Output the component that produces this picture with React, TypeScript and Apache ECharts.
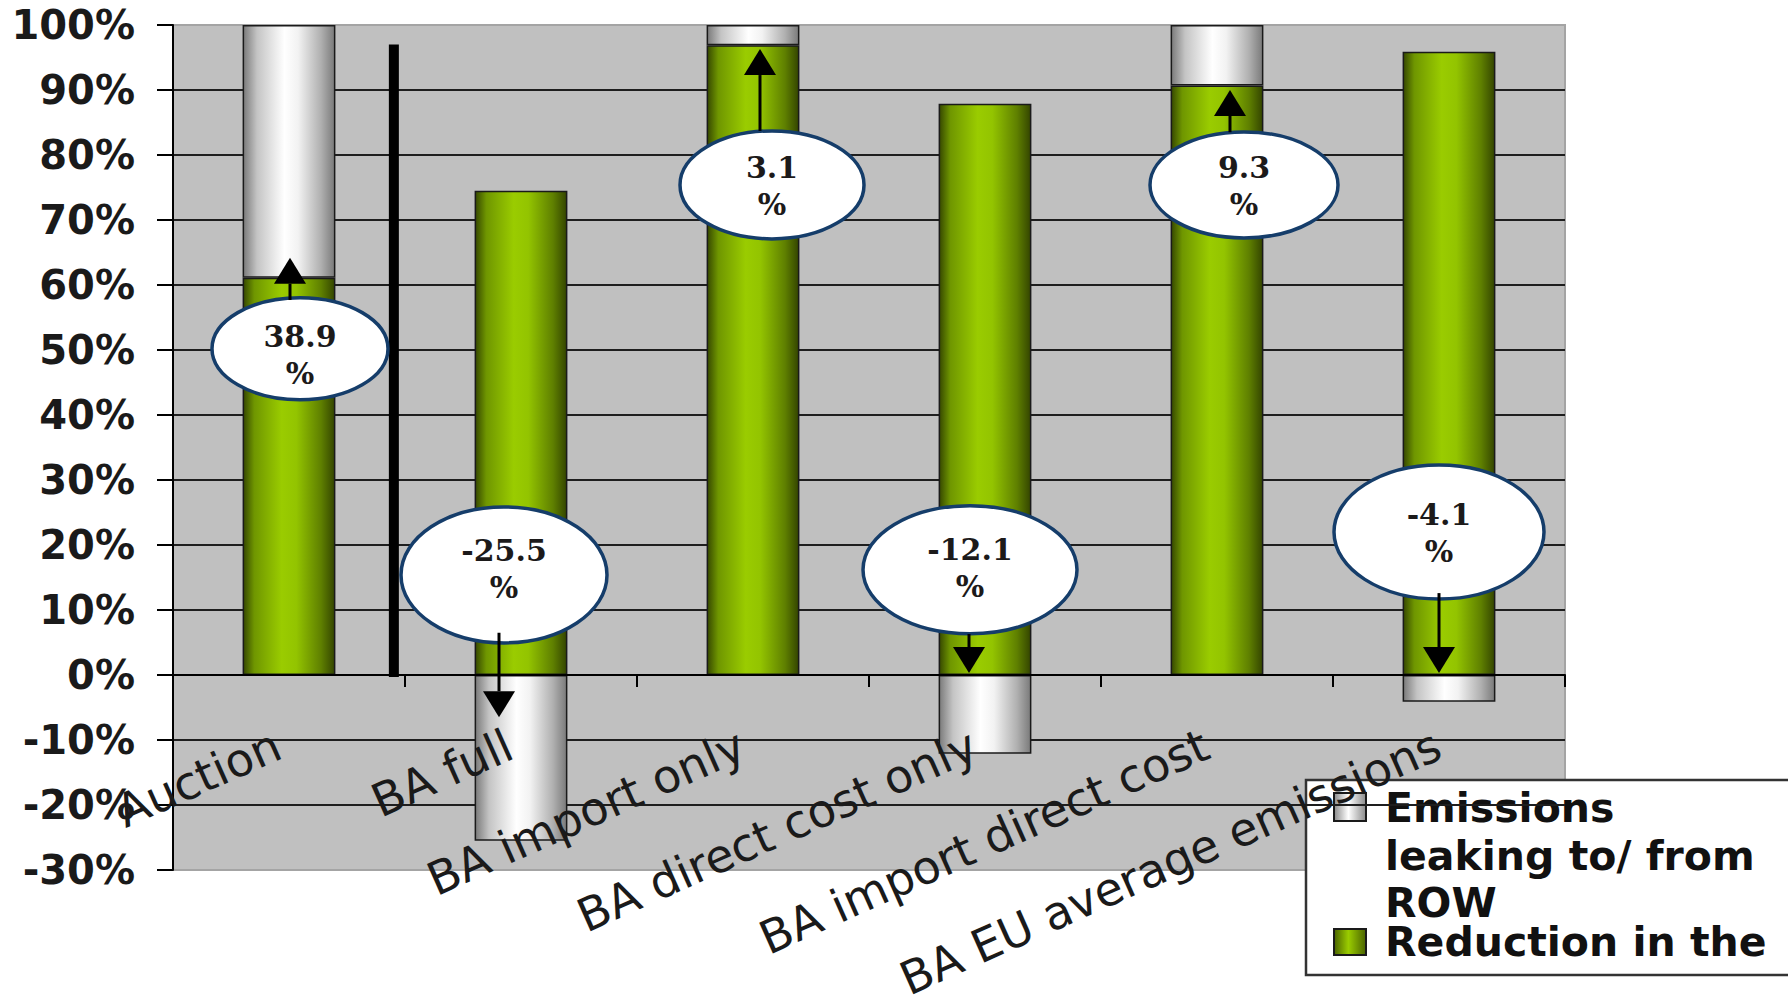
import React, { useEffect, useRef } from "react";
import * as echarts from "echarts";

// ---------- data ----------
const categories = [
  "Auction",
  "BA full",
  "BA import only",
  "BA direct cost only",
  "BA import direct cost",
  "BA EU average emissions",
];
const reduction = [61.1, 74.5, 96.9, 87.9, 90.7, 95.9];
const leakage = [38.9, -25.5, 3.1, -12.1, 9.3, -4.1];
const seriesNames = ["Emissions leaking to/ from ROW", "Reduction in the"];
const legendLines1 = ["Emissions", "leaking to/ from", "ROW"];
const legendLines2 = ["Reduction in the"];
const yMin = -30;
const yMax = 100;
const yStep = 10;

// ---------- annotation layout (value units for vertical positions, px for offsets/sizes) ----------
const calloutCenter = [50.2, 15.4, 75.4, 16.2, 75.4, 22];
const calloutDx = [11, -17, 19, -15, 27, -10];
const calloutRx = [88, 103, 92, 107, 94, 105];
const calloutRy = [51, 68, 54, 64, 53, 67];
const calloutTextDy = [6, -6, 1, -2, 1, 1];
const arrowDx = [1, -22, 7, -16, 13, -10];
const arrowFrom = [57.7, 6.5, 83.7, 6.3, 83.5, 12.6];
const arrowTip = [64.2, -6.5, 96.3, 0.3, 90, 0.3];
const dividerTop = 97;

const greenGrad = () =>
  new echarts.graphic.LinearGradient(0, 0, 1, 0, [
    { offset: 0, color: "#364800" },
    { offset: 0.12, color: "#6f9600" },
    { offset: 0.42, color: "#9acc00" },
    { offset: 0.58, color: "#93c400" },
    { offset: 0.85, color: "#5f8000" },
    { offset: 1, color: "#344500" },
  ]);
const whiteGrad = () =>
  new echarts.graphic.LinearGradient(0, 0, 1, 0, [
    { offset: 0, color: "#7a7a7a" },
    { offset: 0.15, color: "#c4c4c4" },
    { offset: 0.45, color: "#ffffff" },
    { offset: 0.6, color: "#f2f2f2" },
    { offset: 0.85, color: "#b0b0b0" },
    { offset: 1, color: "#7a7a7a" },
  ]);

export default function App() {
  const ref = useRef<HTMLDivElement>(null);

  useEffect(() => {
    if (!ref.current) return;
    const chart = echarts.init(ref.current, null, { renderer: "svg" });

    const legendText = (t: string, y: number) => ({
      type: "text",
      x: 1385,
      y,
      style: {
        text: t,
        fontFamily: "DejaVu Sans",
        fontWeight: "bold",
        fontSize: 41,
        fill: "#111",
        verticalAlign: "middle",
      },
    });

    const option: any = {
      animation: false,
      textStyle: { fontFamily: "DejaVu Sans" },
      grid: {
        left: 173,
        right: 223,
        top: 25,
        bottom: 130,
        show: true,
        backgroundColor: "#c0c0c0",
        borderColor: "#a4a4a4",
        borderWidth: 2,
        containLabel: false,
        outerBoundsMode: "none",
      },
      xAxis: {
        type: "category",
        data: categories,
        z: 4,
        axisLine: { onZero: true, lineStyle: { color: "#000", width: 2 } },
        axisTick: { show: true, length: 12, lineStyle: { color: "#000", width: 2 } },
        axisLabel: {
          interval: 0,
          rotate: 24,
          margin: -132,
          padding: [0, 12, 0, 0],
          fontFamily: "DejaVu Sans",
          fontSize: 46,
          color: "#1a1a1a",
        },
        splitLine: { show: false },
      },
      yAxis: {
        type: "value",
        min: yMin,
        max: yMax,
        interval: yStep,
        axisLine: { show: true, lineStyle: { color: "#000", width: 2 } },
        axisTick: { show: true, length: 16, lineStyle: { color: "#000", width: 2 } },
        axisLabel: {
          formatter: "{value}%",
          fontFamily: "DejaVu Sans",
          fontWeight: "bold",
          fontSize: 40,
          color: "#1a1a1a",
          margin: 38,
        },
        splitLine: {
          show: true,
          showMinLine: false,
          showMaxLine: false,
          lineStyle: { color: "#1e1e1e", width: 2 },
        },
      },
      series: [
        {
          name: seriesNames[1],
          type: "bar",
          stack: "total",
          data: reduction,
          barWidth: "40%",
          itemStyle: { color: greenGrad(), borderColor: "#1a1a1a", borderWidth: 1.5 },
        },
        {
          name: seriesNames[0],
          type: "bar",
          stack: "total",
          data: leakage,
          barWidth: "40%",
          itemStyle: { color: whiteGrad(), borderColor: "#1a1a1a", borderWidth: 1.5 },
        },
        {
          name: "divider",
          type: "custom",
          silent: true,
          z: 3,
          data: [[0, dividerTop]],
          renderItem: (params: any, api: any) => {
            const base = api.coord([0, 0]);
            const band = api.size([1, 0])[0];
            const top = api.coord([0, api.value(1)])[1];
            const x = base[0] + band * 0.452;
            return {
              type: "rect",
              shape: { x: x - 5, y: top, width: 10, height: base[1] - top + 2 },
              style: { fill: "#000" },
            };
          },
        },
        {
          name: "callouts",
          type: "custom",
          silent: true,
          z: 3,
          data: categories.map((_, i) => [i, leakage[i]]),
          renderItem: (params: any, api: any) => {
            const i = params.dataIndex;
            const val = api.value(1);
            const bx = api.coord([i, 0])[0];
            const cx = bx + calloutDx[i];
            const cy = api.coord([i, calloutCenter[i]])[1];
            const ax = bx + arrowDx[i];
            const y0 = api.coord([i, arrowFrom[i]])[1];
            const yt = api.coord([i, arrowTip[i]])[1];
            const up = yt < y0;
            const hh = 26;
            const hw = 16;
            const yb = up ? yt + hh : yt - hh;
            return {
              type: "group",
              children: [
                {
                  type: "ellipse",
                  shape: { cx, cy, rx: calloutRx[i], ry: calloutRy[i] },
                  style: { fill: "#ffffff", stroke: "#153d6a", lineWidth: 3.5 },
                },
                {
                  type: "text",
                  x: cx,
                  y: cy + calloutTextDy[i],
                  style: {
                    text: `${Number(val).toFixed(1)}\n%`,
                    fontFamily: "DejaVu Serif",
                    fontWeight: "bold",
                    fontSize: 30,
                    lineHeight: 37,
                    fill: "#1c1a1a",
                    align: "center",
                    verticalAlign: "middle",
                  },
                },
                {
                  type: "line",
                  shape: { x1: ax, y1: y0, x2: ax, y2: yb },
                  style: { stroke: "#000", lineWidth: 3 },
                },
                {
                  type: "polygon",
                  shape: { points: [[ax, yt], [ax - hw, yb], [ax + hw, yb]] },
                  style: { fill: "#000" },
                },
              ],
            };
          },
        },
      ],
      graphic: [
        {
          type: "group",
          z: 100,
          children: [
            {
              type: "rect",
              shape: { x: 1306, y: 780, width: 520, height: 195 },
              style: { fill: "#ffffff", stroke: "#333", lineWidth: 2.5 },
            },
            {
              type: "rect",
              shape: { x: 1334, y: 793, width: 32, height: 28 },
              style: {
                fill: {
                  type: "linear", x: 0, y: 0, x2: 1, y2: 0,
                  colorStops: [
                    { offset: 0, color: "#8a8a8a" },
                    { offset: 0.45, color: "#ffffff" },
                    { offset: 1, color: "#8a8a8a" },
                  ],
                },
                stroke: "#1a1a1a",
                lineWidth: 2,
              },
            },
            {
              type: "rect",
              shape: { x: 1334, y: 929, width: 32, height: 26 },
              style: {
                fill: {
                  type: "linear", x: 0, y: 0, x2: 1, y2: 0,
                  colorStops: [
                    { offset: 0, color: "#4a6300" },
                    { offset: 0.45, color: "#9acc00" },
                    { offset: 1, color: "#4a6300" },
                  ],
                },
                stroke: "#1a1a1a",
                lineWidth: 2,
              },
            },
            ...legendLines1.map((t, k) => legendText(t, 808 + k * 47.5)),
            ...legendLines2.map((t, k) => legendText(t, 942 + k * 47.5)),
          ],
        },
      ],
    };

    chart.setOption(option);
    return () => chart.dispose();
  }, []);

  return (
    <div
      ref={ref}
      style={{ position: "fixed", left: 0, top: 0, width: 1788, height: 1000, background: "#fff" }}
    />
  );
}
